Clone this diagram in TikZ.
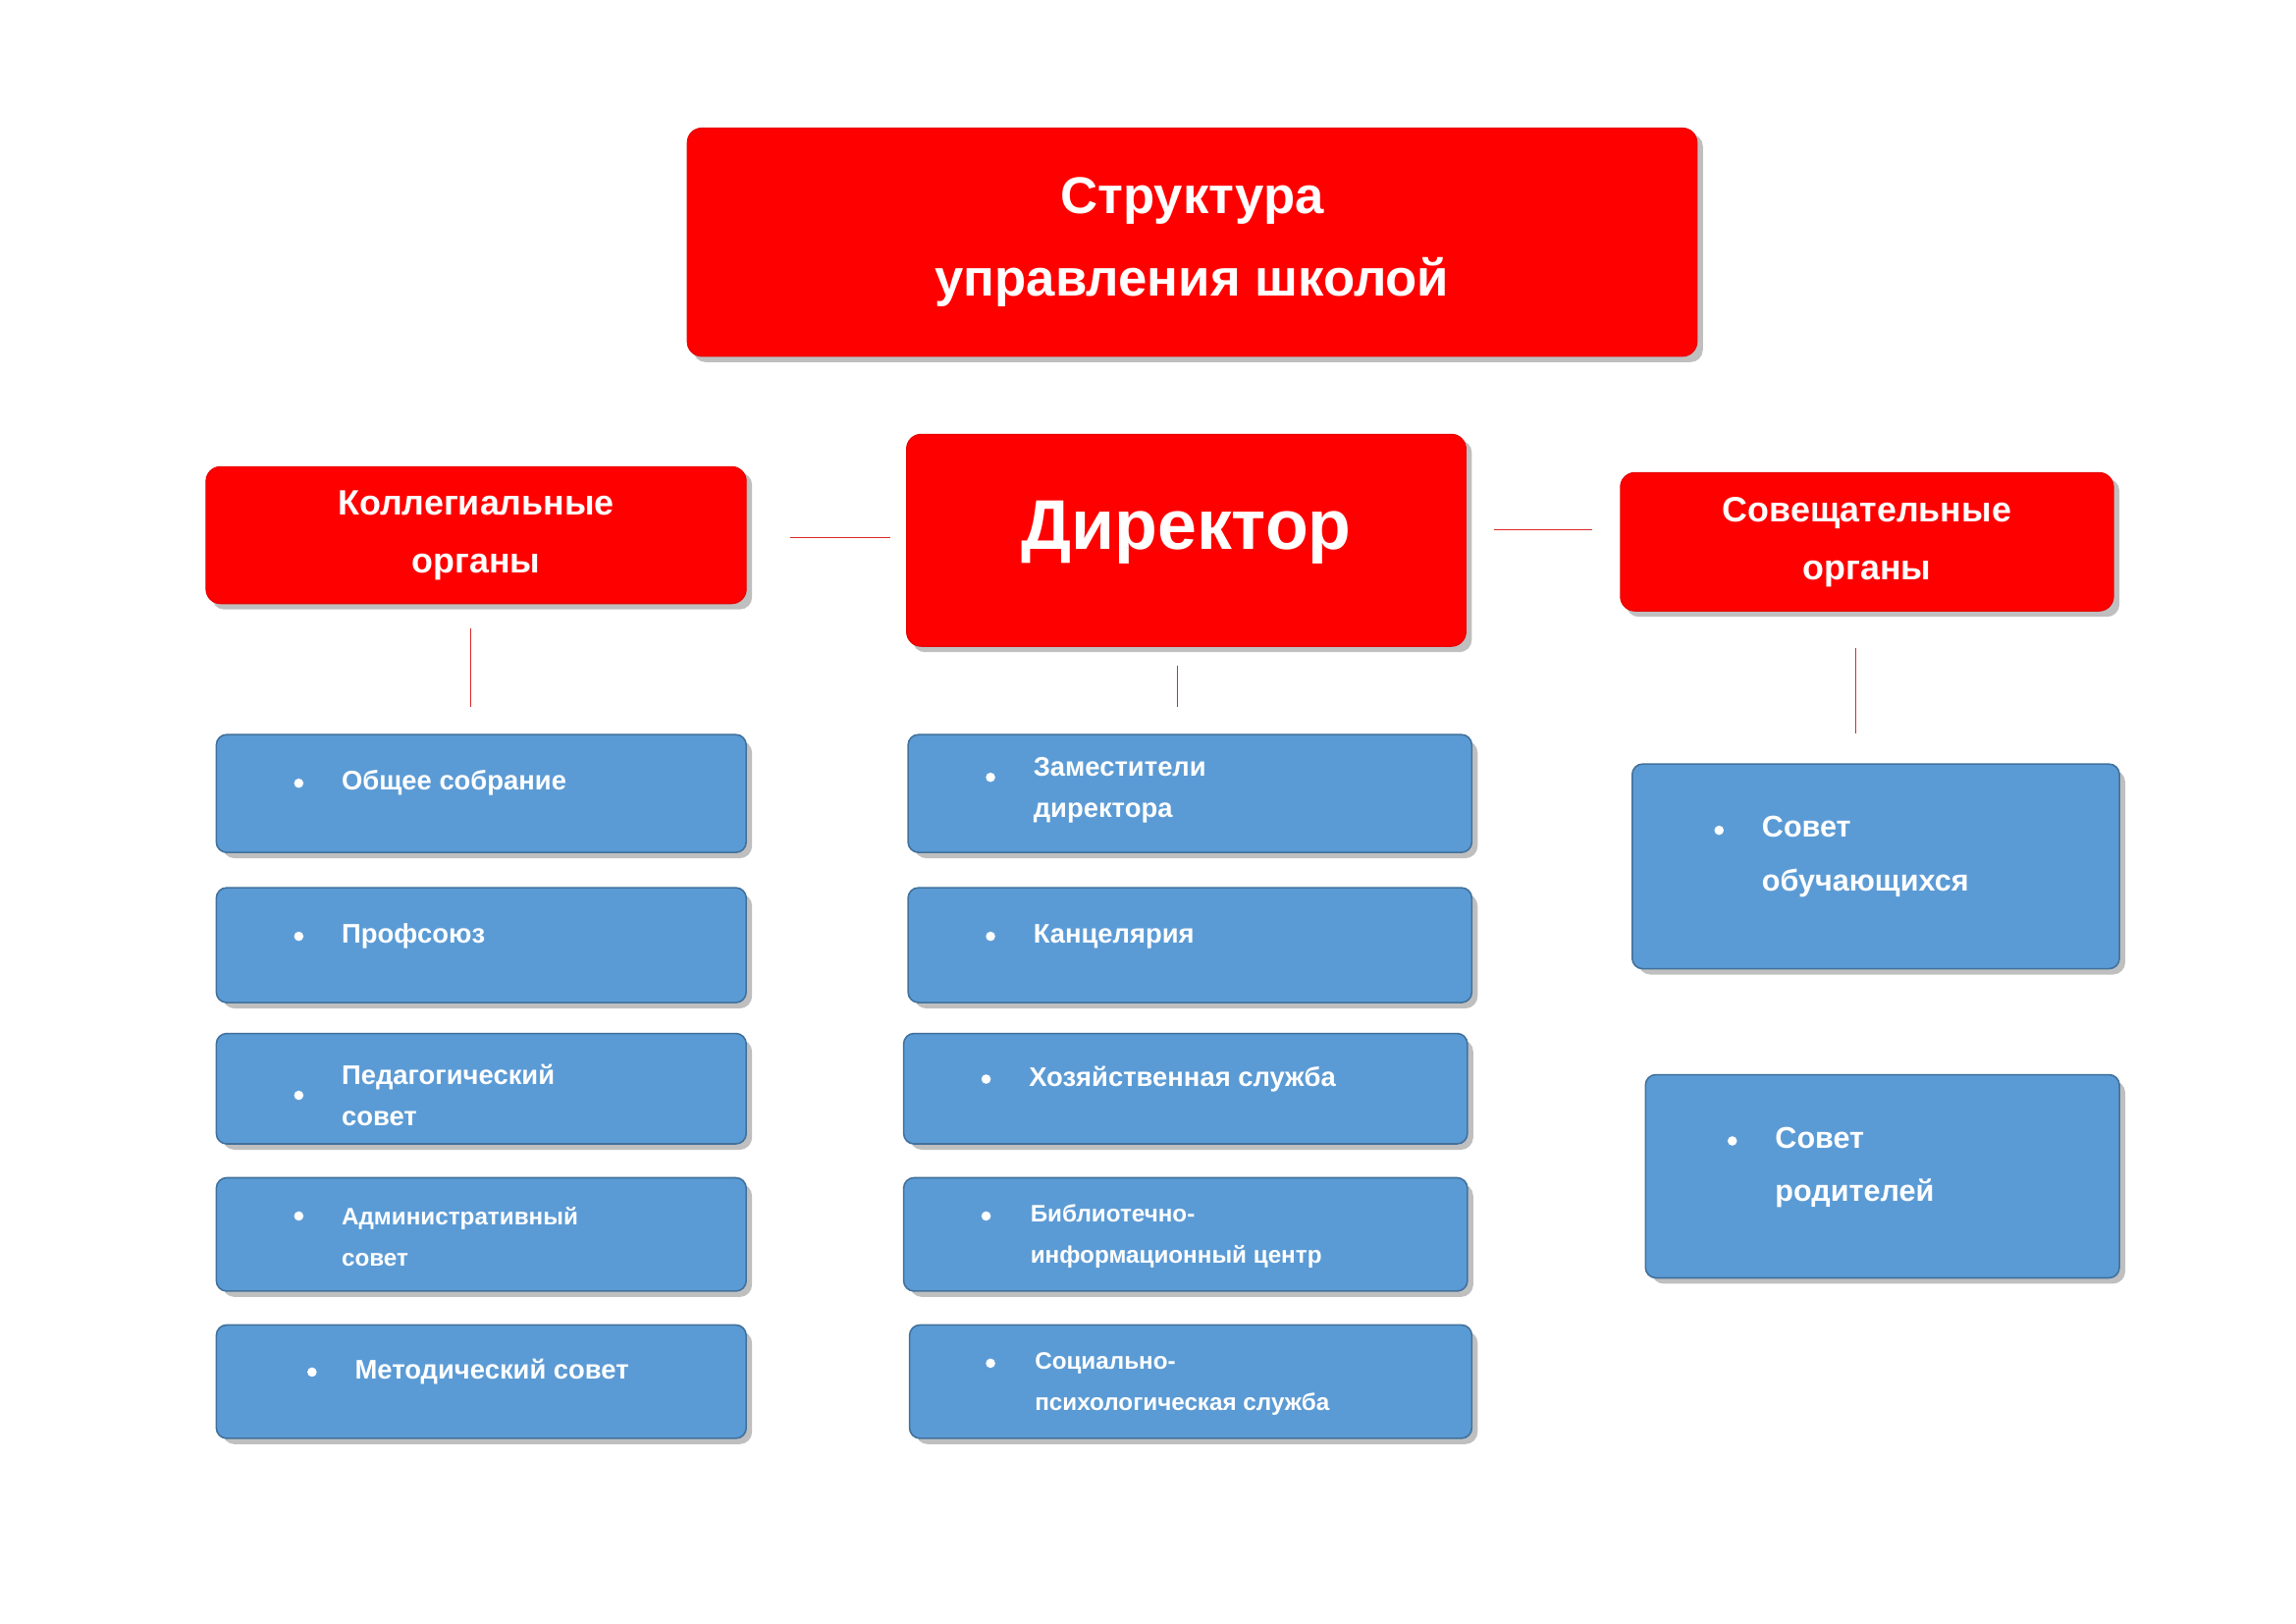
\documentclass[tikz,border=0pt]{standalone}
\usepackage{fontspec}
\setmainfont{Liberation Sans}
\begin{document}
\begin{tikzpicture}[x=0.05cm,y=-0.05cm,
 redbox/.style={fill={rgb,255:red,255;green,0;blue,0},draw={rgb,255:red,230;green,0;blue,0},line width=1pt,rounded corners=14},
 bluebox/.style={fill={rgb,255:red,91;green,155;blue,213},draw={rgb,255:red,65;green,113;blue,156},line width=1.5pt,rounded corners=10},
 shad/.style={fill=black!25,rounded corners=12},
 con/.style={draw={rgb,255:red,220;green,40;blue,40},line width=0.8pt},
 wt/.style={text=white,font=\bfseries},
 btxt/.style={text=white,font=\bfseries\fontsize{26}{40}\selectfont,anchor=west,align=left,inner sep=0pt}]
\useasboundingbox (0,0) rectangle (1560,1103);
\newcommand{\rbox}[5]{\fill[shad] (#2+4,#3+4) rectangle (#4+4,#5+4);
 \path[redbox] (#2,#3) rectangle (#4,#5) node[pos=0.5] (#1) {};}
\newcommand{\bbox}[5]{\fill[shad] (#2+4,#3+4) rectangle (#4+4,#5+4);
 \path[bluebox] (#2,#3) rectangle (#4,#5) node[pos=0.5] (#1) {};}
\newcommand{\bul}[3]{\fill[white] (#1,#2) circle (3.2);\node[btxt] at (#1+29,#2) {#3};}
% red boxes
\rbox{title}{467}{87}{1153}{242}
\node[wt,font=\bfseries\fontsize{50}{80}\selectfont,align=center] at (title) {Структура\\управления школой};
\rbox{koll}{140}{317}{507}{410}
\node[wt,font=\bfseries\fontsize{34}{56}\selectfont,align=center] at (koll) {Коллегиальные\\органы};
\rbox{dir}{616}{295}{996}{439}
\node[wt,font=\bfseries\fontsize{68}{80}\selectfont] at (806,362) {Директор};
\rbox{sov}{1101}{321}{1436}{415}
\node[wt,font=\bfseries\fontsize{34}{56}\selectfont,align=center] at (sov) {Совещательные\\органы};
% connectors
\coordinate (c1) at (537,365); \coordinate (c2) at (605,365);
\coordinate (c3) at (1015,360); \coordinate (c4) at (1082,360);
\coordinate (v1) at (320,427); \coordinate (v2) at (320,480);
\coordinate (v3) at (800,452); \coordinate (v4) at (800,480);
\coordinate (v5) at (1261,440); \coordinate (v6) at (1261,498);
\draw[con] (c1)--(c2); \draw[con] (c3)--(c4);
\draw[con] (v1)--(v2); \draw[con] (v3)--(v4); \draw[con] (v5)--(v6);
% left column
\bbox{l1}{147}{499}{507}{579} \bul{203}{532}{Общее собрание}
\bbox{l2}{147}{603}{507}{681} \bul{203}{636}{Профсоюз}
\bbox{l3}{147}{702}{507}{777} \bul{203}{744}{Педагогический\\совет}
\bbox{l4}{147}{800}{507}{877} \fill[white] (203,826) circle (3.2);
\node[btxt,font=\bfseries\fontsize{23}{40}\selectfont] at (232,840) {Административный\\совет};
\bbox{l5}{147}{900}{507}{977} \bul{212}{932}{Методический совет}
% middle column
\bbox{m1}{617}{499}{1000}{579}
\begin{scope}\clip (617,499) rectangle (1000,570);
\fill[white] (673,528) circle (3.2);
\node[btxt,anchor=north west] at (702,514) {Заместители\\директора};
\end{scope}
\bbox{m2}{617}{603}{1000}{681} \bul{673}{636}{Канцелярия}
\bbox{m3}{614}{702}{997}{777} \bul{670}{733}{Хозяйственная служба}
\bbox{m4}{614}{800}{997}{877} \fill[white] (670,826) circle (3.2);
\node[btxt,font=\bfseries\fontsize{23}{40}\selectfont] at (700,840) {Библиотечно-\\информационный центр};
\bbox{m5}{618}{900}{1000}{977} \fill[white] (673,926) circle (3.2);
\node[btxt,font=\bfseries\fontsize{23}{40}\selectfont] at (703,940) {Социально-\\психологическая служба};
% right column
\bbox{r1}{1109}{519}{1440}{658} \fill[white] (1168,564) circle (3.2);
\node[btxt,font=\bfseries\fontsize{29}{52}\selectfont] at (1197,582) {Совет\\обучающихся};
\bbox{r2}{1118}{730}{1440}{868} \fill[white] (1177,775) circle (3.2);
\node[btxt,font=\bfseries\fontsize{29}{52}\selectfont] at (1206,793) {Совет\\родителей};
\end{tikzpicture}
\end{document}
